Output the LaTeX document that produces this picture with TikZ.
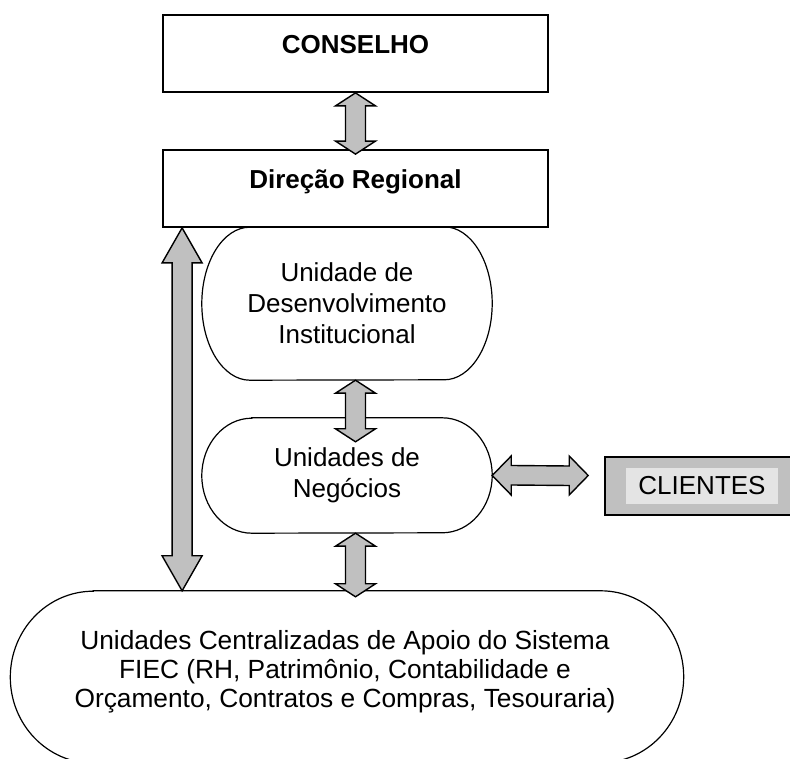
\documentclass[tikz,border=0pt]{standalone}
\usepackage{fontspec}
\setmainfont{Liberation Sans}
\usepackage{xcolor}
\usetikzlibrary{positioning,calc}

\definecolor{blockgray}{HTML}{C0C0C0}
\definecolor{cligray}{HTML}{E4E4E4}

\tikzset{
  box/.style={draw, line width=1.8pt, minimum width=385pt, minimum height=77pt,
    font=\fontsize{26}{31}\selectfont\bfseries, text height=13pt, text depth=13pt},
  unit/.style={minimum width=290pt, align=center, inner sep=0pt,
    font=\fontsize{26}{31}\selectfont},
  capline/.style={draw, line width=1.2pt},
  blockarrow/.style={draw, fill=blockgray, line width=1.4pt, line join=miter},
  clibox/.style={draw, fill=blockgray, line width=1.4pt, minimum width=187pt, minimum height=58pt},
  clitext/.style={fill=cligray, minimum width=152pt, minimum height=36pt, inner sep=0pt,
    font=\fontsize{26}{31}\selectfont}
}

% outline with half-ellipse ends: node, x radius, y radius
\newcommand{\capsule}[3]{%
  \draw[capline] ([xshift=#2]#1.north west) -- ([xshift=-#2]#1.north east)
    arc[start angle=90, end angle=-90, x radius=#2, y radius=#3]
    -- ([xshift=#2]#1.south west)
    arc[start angle=270, end angle=90, x radius=#2, y radius=#3] -- cycle;}
% vertical double block arrow: upper tip, lower tip, head length
\newcommand{\vblock}[3]{%
  \draw[blockarrow] (#1) -- ++(20pt,-#3) -- ++(-10pt,0pt) -- ($(#2)+(10pt,#3)$) -- ++(10pt,0pt) -- (#2)
    -- ++(-20pt,#3) -- ++(10pt,0pt) -- ($(#1)+(-10pt,-#3)$) -- ++(-10pt,0pt) -- cycle;}
% horizontal double block arrow: left tip, right tip, head length
\newcommand{\hblock}[3]{%
  \draw[blockarrow] (#1) -- ++(#3,19.5pt) -- ++(0pt,-9.5pt) -- ($(#2)+(-#3,9.5pt)$) -- ++(0pt,10pt) -- (#2)
    -- ++(-#3,-19.5pt) -- ++(0pt,9.5pt) -- ($(#1)+(#3,-9.5pt)$) -- ++(0pt,-10pt) -- cycle;}

\begin{document}
\begin{tikzpicture}[x=1pt, y=1pt, on grid]
  \useasboundingbox (0,0) rectangle (790,758);

  \node[box] (cons) at (355.5,704.5) {CONSELHO};
  \node[box] (dir) [below=135pt of cons] {Direção Regional};
  \node[unit, minimum height=153pt] (udi) [below left=115pt and 8.5pt of dir]
    {Unidade de\\Desenvolvimento\\Institucional};
  \node[unit, minimum height=115pt] (un) [below=172pt of udi] {Unidades de\\Negócios};
  \node[clibox] (clibox) [below right=10.5pt and 351.5pt of un] {};
  \node[clitext] (cli) at ([xshift=3.5pt]clibox.center) {CLIENTES};
  \node[unit, minimum width=673pt, minimum height=172pt] (cent) [below=201.5pt of un] {};
  \node[unit, font=\fontsize{26.3}{29}\selectfont] (centtext) [above left=5pt and 2pt of cent]
    {Unidades Centralizadas de Apoio do Sistema\\FIEC (RH, Patrimônio, Contabilidade e\\Orçamento, Contratos e Compras, Tesouraria)};

  \capsule{udi}{48pt}{76.5pt}
  \capsule{un}{50pt}{57.5pt}
  \capsule{cent}{83pt}{86pt}

  \coordinate (a1) at ($(dir.north)+(0,-5pt)$);
  \coordinate (a2t) at (udi.south -| cons.south);
  \coordinate (a2b) at ($(un.north -| cons.south)+(0,-24pt)$);
  \coordinate (a3t) at (un.south -| cons.south);
  \coordinate (a3b) at ($(cent.north -| cons.south)+(0,-6pt)$);
  \coordinate (lt) at ($(dir.south west)+(20pt,0)$);
  \coordinate (lb) at (lt |- cent.north);
  \coordinate (ctip) at ($(un.east)+(96pt,0)$);

  \vblock{cons.south}{a1}{13pt}
  \vblock{a2t}{a2b}{13pt}
  \vblock{a3t}{a3b}{13pt}
  \vblock{lt}{lb}{35pt}
  \hblock{un.east}{ctip}{19pt}
\end{tikzpicture}
\end{document}
